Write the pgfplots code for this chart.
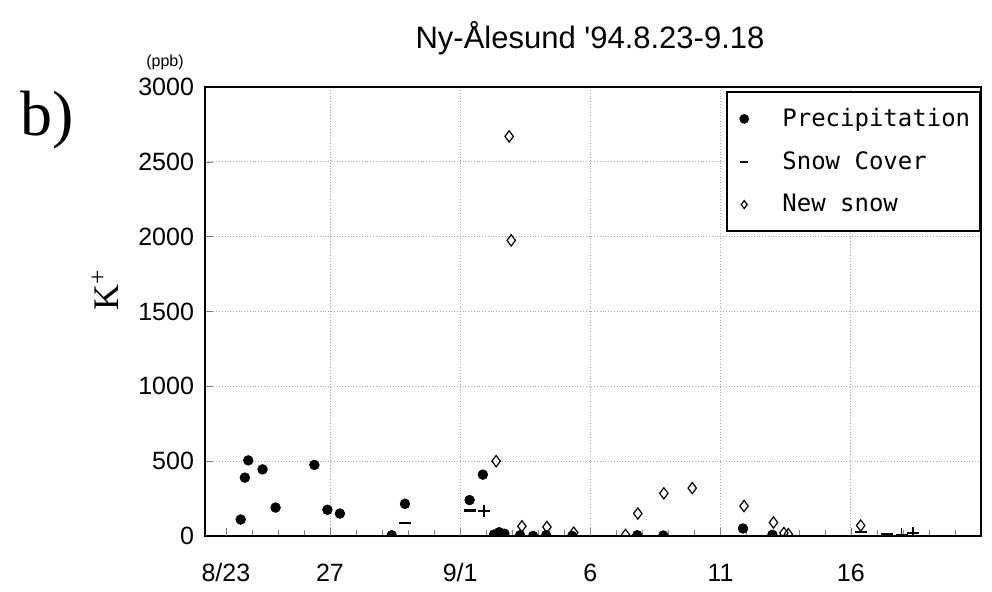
\documentclass[border=0pt]{standalone}
\usepackage{pgfplots}
\pgfplotsset{compat=1.18}
\usepackage{fontspec}
\setmainfont{Liberation Sans}
\newfontfamily\seriffont{Liberation Serif}
\newfontfamily\monofont{DejaVu Sans Mono}
\newfontfamily\titlefont[Ligatures=TeXOff]{Liberation Sans}
\begin{document}
\begin{tikzpicture}[x=1pt,y=1pt]
\path[use as bounding box] (0,0) rectangle (496,296);
\begin{axis}[
  at={(102.5pt,28pt)}, anchor=south west,
  scale only axis, width=388pt, height=224.5pt,
  xmin=-0.8, xmax=29, ymin=0, ymax=3000,
  xtick={4,9,14,19,24}, xticklabels={27,9/1,6,11,16},
  extra x ticks={0}, extra x tick labels={8/23},
  extra x tick style={grid=none},
  minor xtick={1,2,...,28},
  ytick={0,500,...,3000},
  xtick pos=bottom, ytick pos=left, tick align=inside,
  major tick length=4pt, minor tick length=3pt,
  xmajorgrids, ymajorgrids,
  grid style={densely dotted, gray!70},
  axis line style={line width=0.9pt},
  scaled y ticks=false,
  /pgf/number format/.cd, assume math mode=true, set thousands separator={},
  /pgfplots/.cd,
  tick label style={font=\fontsize{12.5}{14}\selectfont},
  xticklabel style={anchor=north, text height=9pt, text depth=2.5pt, yshift=-10pt},
  yticklabel style={xshift=-2pt},
  clip marker paths=true,
  legend style={at={(1,0.99)}, anchor=north east, draw=black, line width=0.8pt,
    font=\monofont\fontsize{12}{14}\selectfont, row sep=7pt,
    inner xsep=3pt, inner ysep=6pt},
  legend cell align=left,
  legend image code/.code={
    \path[draw=none,fill=none] (-0.2cm,0) -- (0.6cm,0);
    \draw[#1, mark size=2pt] plot coordinates {(0cm,0cm)};
  },
]
\addplot[only marks, mark=*, mark size=2.4pt, black] coordinates {
(0.57,110)(0.73,390)(0.86,505)(1.41,445)(1.91,190)(3.4,475)(3.9,175)(4.38,150)
(6.37,5)(6.88,215)(9.36,240)(9.87,410)(10.3,10)(10.5,25)(10.7,15)(11.3,5)
(11.8,0)(12.3,5)(13.3,0)(15.8,5)(16.8,3)(19.86,50)(20.99,8)
};
\addlegendentry{Precipitation}
\addplot[only marks, mark=-, mark size=3pt, black, mark options={line width=1.2pt}] coordinates {
(6.88,85)(9.36,170)(24.4,25)(24.9,0)(25.4,10)
};
\addlegendentry{Snow Cover}
\addplot[only marks, mark=diamond, mark size=2.8pt, black, mark options={line width=0.6pt}] coordinates {
(10.38,500)(10.88,2670)(10.96,1975)(11.37,65)(12.33,60)(13.36,22)(15.35,7)
(15.82,150)(16.82,285)(17.91,320)(19.9,200)(21.03,90)(21.43,20)(21.6,12)(24.38,70)
};
\addlegendentry{New snow}
\addplot[only marks, mark=+, mark size=3pt, black, forget plot, mark options={line width=0.9pt}] coordinates {
(9.9,165)(25.95,10)(26.4,22)
};
\end{axis}
\node at (295,277) {\titlefont\fontsize{15.5}{17}\selectfont Ny-Ålesund '94.8.23-9.18};
\node at (23.5,236) {\seriffont\fontsize{32}{34}\selectfont b)};
\node at (82.5,265) {\fontsize{8}{9}\selectfont (ppb)};
\node[rotate=90] at (52.5,151) {\seriffont\fontsize{18}{20}\selectfont K\textsuperscript{+}};
\end{tikzpicture}
\end{document}
